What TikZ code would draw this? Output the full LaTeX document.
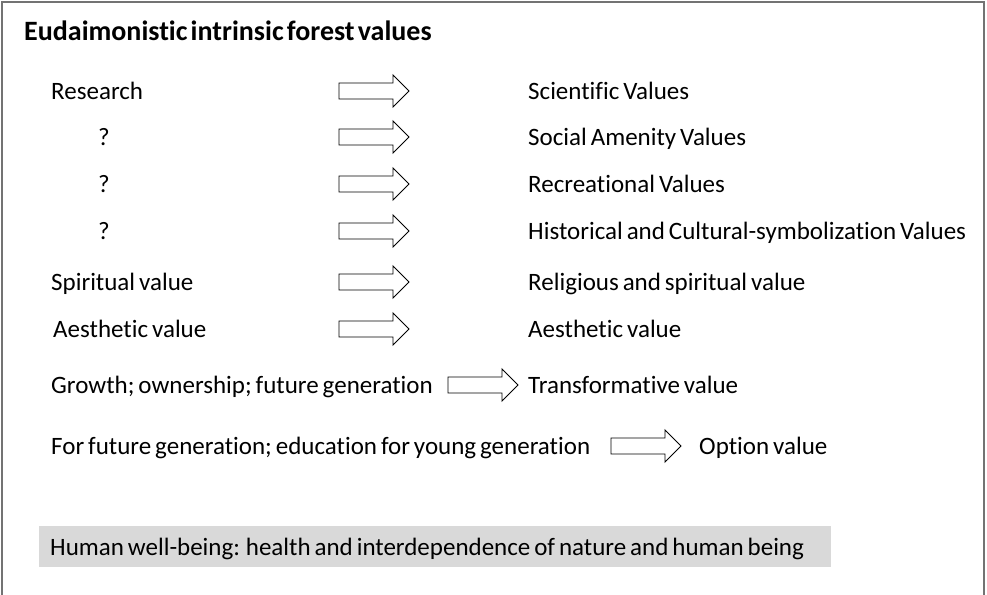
\documentclass[tikz,border=0pt]{standalone}
\usepackage{fontspec}
\setmainfont[WordSpace=0.7,RawFeature={-liga}]{Carlito}
\newfontfamily\titlefont[WordSpace=0.5,RawFeature={-liga}]{Carlito}
\begin{document}
\begin{tikzpicture}[x=1pt,y=-1pt,
  lbl/.style={anchor=base west,inner sep=0pt,font=\fontsize{25}{29}\selectfont},
  ttl/.style={anchor=base west,inner sep=0pt,font=\titlefont\fontsize{28}{32}\selectfont\bfseries},
  arrowline/.style={draw=black,line width=0.9pt,fill=white,line join=miter},
  frameline/.style={draw=black!55,line width=1.5pt},
  fatarrow/.pic={\path[arrowline] (0,-8) -- (54,-8) -- (54,-16) -- (70,0) -- (54,16) -- (54,8) -- (0,8) -- cycle;}
]
\useasboundingbox (0,0) rectangle (987,594);
% frame (open at bottom)
\draw[frameline] (2,600) -- (2,2) -- (984,2) -- (984,600);
% title
\node[ttl] (title) at (24,41) {Eudaimonistic intrinsic forest values};
% left column
\node[lbl] (l1) at (51,99) {Research};
\node[lbl] (l2) at (98,145) {?};
\node[lbl] (l3) at (98,192) {?};
\node[lbl] (l4) at (98,239) {?};
\node[lbl] (l5) at (51,290) {Spiritual value};
\node[lbl] (l6) at (53,337) {Aesthetic value};
\node[lbl] (l7) at (51,393) {Growth; ownership; future generation};
\node[lbl] (l8) at (51,454) {For future generation; education for young generation};
% arrows
\coordinate (a1) at (339,91);
\coordinate (a2) at (339,137);
\coordinate (a3) at (339,184);
\coordinate (a4) at (339,231);
\coordinate (a5) at (339,282);
\coordinate (a6) at (339,329);
\coordinate (a7) at (448,385);
\coordinate (a8) at (611,446);
\foreach \a in {a1,a2,a3,a4,a5,a6,a7,a8} { \pic at (\a) {fatarrow}; }
% right column
\node[lbl] (r1) at (528,99) {Scientific Values};
\node[lbl] (r2) at (528,145) {Social Amenity Values};
\node[lbl] (r3) at (528,192) {Recreational Values};
\node[lbl] (r4) at (528,239) {Historical and Cultural-symbolization Values};
\node[lbl] (r5) at (528,290) {Religious and spiritual value};
\node[lbl] (r6) at (528,337) {Aesthetic value};
\node[lbl] (r7) at (528,393) {Transformative value};
\node[lbl] (r8) at (699,454) {Option value};
% bottom gray box
\path[fill=black!15] (39,526) rectangle (831,567);
\node[lbl] (hw) at (50,555) {Human well-being: health and interdependence of nature and human being};
\end{tikzpicture}
\end{document}
